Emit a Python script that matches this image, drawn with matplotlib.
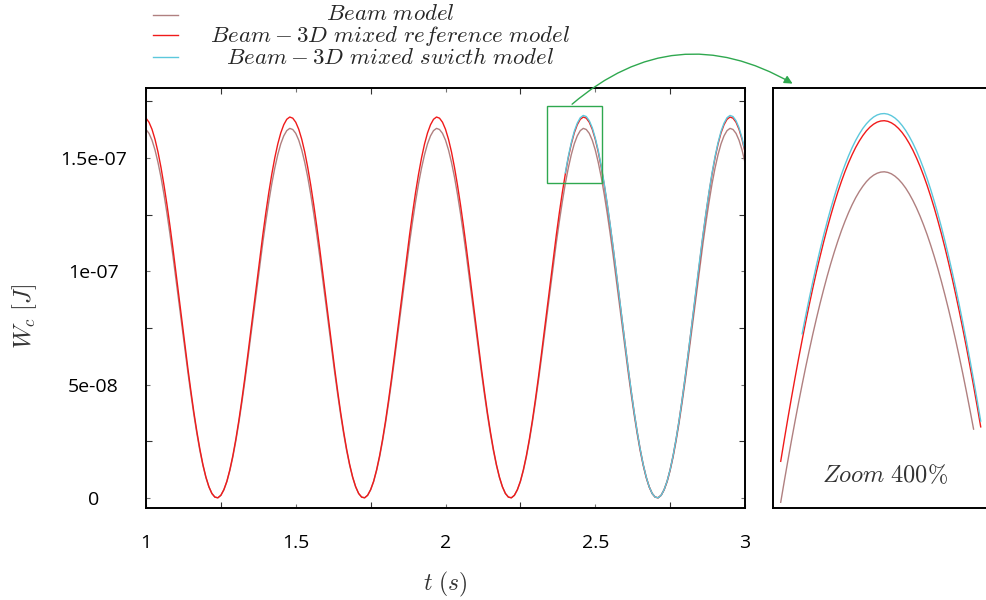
import numpy as np
import matplotlib
matplotlib.use('Agg')
import matplotlib.pyplot as plt
from matplotlib.lines import Line2D
from matplotlib.patches import Rectangle, FancyArrowPatch

# time samples (s) and energy W_c in units of 1e-8 J
t_main = np.round(np.arange(1.0, 3.00001, 0.01), 2)

w_beam = [16.25, 16.08, 15.78, 15.35, 14.80, 14.15, 13.39, 12.55, 11.64, 10.67,
          9.66, 8.62, 7.58, 6.54, 5.53, 4.57, 3.66, 2.83, 2.08, 1.44,
          0.90, 0.49, 0.20, 0.04, 0.01, 0.12, 0.36, 0.72, 1.21, 1.81,
          2.52, 3.32, 4.20, 5.14, 6.13, 7.16, 8.20, 9.24, 10.27, 11.26,
          12.19, 13.06, 13.86, 14.55, 15.14, 15.62, 15.97, 16.20, 16.30,
          16.25, 16.08, 15.78, 15.35, 14.80, 14.15, 13.39, 12.55, 11.64, 10.67,
          9.66, 8.62, 7.58, 6.54, 5.53, 4.57, 3.66, 2.83, 2.08, 1.44,
          0.90, 0.49, 0.20, 0.04, 0.01, 0.12, 0.36, 0.72, 1.21, 1.81,
          2.52, 3.32, 4.20, 5.14, 6.13, 7.16, 8.20, 9.24, 10.27, 11.26,
          12.19, 13.06, 13.86, 14.55, 15.14, 15.62, 15.97, 16.20, 16.30,
          16.25, 16.08, 15.78, 15.35, 14.80, 14.15, 13.39, 12.55, 11.64, 10.67,
          9.66, 8.62, 7.58, 6.54, 5.53, 4.57, 3.66, 2.83, 2.08, 1.44,
          0.90, 0.49, 0.20, 0.04, 0.01, 0.12, 0.36, 0.72, 1.21, 1.81,
          2.52, 3.32, 4.20, 5.14, 6.13, 7.16, 8.20, 9.24, 10.27, 11.26,
          12.19, 13.06, 13.86, 14.55, 15.14, 15.62, 15.97, 16.20, 16.30,
          16.25, 16.08, 15.78, 15.35, 14.80, 14.15, 13.39, 12.55, 11.64, 10.67,
          9.66, 8.62, 7.58, 6.54, 5.53, 4.57, 3.66, 2.83, 2.08, 1.44,
          0.90, 0.49, 0.20, 0.04, 0.01, 0.12, 0.36, 0.72, 1.21, 1.81,
          2.52, 3.32, 4.20, 5.14, 6.13, 7.16, 8.20, 9.24, 10.27, 11.26,
          12.19, 13.06, 13.86, 14.55, 15.14, 15.62, 15.97, 16.20, 16.30,
          16.25, 16.08, 15.78, 15.35, 14.80]

w_ref = [16.75, 16.57, 16.26, 15.82, 15.26, 14.58, 13.80, 12.94, 12.00, 11.00,
         9.95, 8.88, 7.81, 6.74, 5.70, 4.71, 3.77, 2.92, 2.15, 1.48,
         0.93, 0.50, 0.20, 0.04, 0.01, 0.12, 0.37, 0.74, 1.25, 1.87,
         2.60, 3.42, 4.33, 5.30, 6.32, 7.38, 8.45, 9.53, 10.58, 11.60,
         12.57, 13.47, 14.28, 15.00, 15.61, 16.10, 16.46, 16.70, 16.80,
         16.75, 16.57, 16.26, 15.82, 15.26, 14.58, 13.80, 12.94, 12.00, 11.00,
         9.95, 8.88, 7.81, 6.74, 5.70, 4.71, 3.77, 2.92, 2.15, 1.48,
         0.93, 0.50, 0.20, 0.04, 0.01, 0.12, 0.37, 0.74, 1.25, 1.87,
         2.60, 3.42, 4.33, 5.30, 6.32, 7.38, 8.45, 9.53, 10.58, 11.60,
         12.57, 13.47, 14.28, 15.00, 15.61, 16.10, 16.46, 16.70, 16.80,
         16.75, 16.57, 16.26, 15.82, 15.26, 14.58, 13.80, 12.94, 12.00, 11.00,
         9.95, 8.88, 7.81, 6.74, 5.70, 4.71, 3.77, 2.92, 2.15, 1.48,
         0.93, 0.50, 0.20, 0.04, 0.01, 0.12, 0.37, 0.74, 1.25, 1.87,
         2.60, 3.42, 4.33, 5.30, 6.32, 7.38, 8.45, 9.53, 10.58, 11.60,
         12.57, 13.47, 14.28, 15.00, 15.61, 16.10, 16.46, 16.70, 16.80,
         16.75, 16.57, 16.26, 15.82, 15.26, 14.58, 13.80, 12.94, 12.00, 11.00,
         9.95, 8.88, 7.81, 6.74, 5.70, 4.71, 3.77, 2.92, 2.15, 1.48,
         0.93, 0.50, 0.20, 0.04, 0.01, 0.12, 0.37, 0.74, 1.25, 1.87,
         2.60, 3.42, 4.33, 5.30, 6.32, 7.38, 8.45, 9.53, 10.58, 11.60,
         12.57, 13.47, 14.28, 15.00, 15.61, 16.10, 16.46, 16.70, 16.80,
         16.75, 16.57, 16.26, 15.82, 15.26]

# switch model starts at t = 2.40 s
t_switch = t_main[140:]
w_switch = [14.34, 15.06, 15.67, 16.17, 16.53, 16.77, 16.87,
            16.82, 16.64, 16.33, 15.88, 15.32, 14.64, 13.86, 12.99, 12.05, 11.04,
            9.99, 8.92, 7.84, 6.77, 5.73, 4.73, 3.79, 2.93, 2.16, 1.49,
            0.94, 0.50, 0.20, 0.04, 0.01, 0.12, 0.37, 0.75, 1.25, 1.88,
            2.61, 3.43, 4.34, 5.32, 6.35, 7.41, 8.49, 9.57, 10.63, 11.65,
            12.62, 13.52, 14.34, 15.06, 15.67, 16.17, 16.53, 16.77, 16.87,
            16.82, 16.64, 16.33, 15.88, 15.32]

# zoomed samples around the peak near t = 2.46 s
t_zoom = np.round(np.arange(2.390, 2.53001, 0.0025), 4)
wz_ref = [13.467, 13.679, 13.886, 14.087, 14.282, 14.472, 14.654, 14.831, 15.001, 15.164,
          15.320, 15.469, 15.611, 15.745, 15.872, 15.991, 16.103, 16.206, 16.302, 16.389,
          16.468, 16.539, 16.601, 16.655, 16.701, 16.738, 16.766, 16.786, 16.797, 16.800,
          16.794, 16.779, 16.756, 16.724, 16.684, 16.635, 16.577, 16.512, 16.437, 16.355,
          16.264, 16.166, 16.059, 15.945, 15.822, 15.693, 15.555, 15.410, 15.259, 15.099,
          14.934, 14.761, 14.582, 14.396, 14.205, 14.007, 13.804]
wz_beam = [13.066, 13.272, 13.472, 13.668, 13.857, 14.041, 14.218, 14.390, 14.554, 14.713,
           14.864, 15.009, 15.146, 15.277, 15.400, 15.515, 15.623, 15.724, 15.816, 15.901,
           15.978, 16.047, 16.107, 16.159, 16.204, 16.240, 16.267, 16.286, 16.297, 16.300,
           16.294, 16.280, 16.257, 16.226, 16.187, 16.140, 16.084, 16.020, 15.948, 15.868,
           15.780, 15.685, 15.581, 15.470, 15.352, 15.226, 15.092, 14.952, 14.804, 14.650,
           14.489, 14.322, 14.148, 13.968, 13.782]
wz_switch = [14.715, 14.893, 15.063, 15.227, 15.384, 15.534, 15.676, 15.811, 15.938, 16.058,
             16.170, 16.274, 16.369, 16.457, 16.537, 16.608, 16.670, 16.725, 16.770, 16.807,
             16.836, 16.856, 16.867, 16.870, 16.864, 16.849, 16.826, 16.794, 16.753, 16.704,
             16.646, 16.580, 16.506, 16.423, 16.332, 16.233, 16.126, 16.011, 15.888, 15.758,
             15.620, 15.475, 15.322, 15.162, 14.996, 14.823, 14.643, 14.456, 14.264, 14.066,
             13.861]

labels = [r'$Beam\ model$', r'$Beam-3D\ mixed\ reference\ model$',
          r'$Beam-3D\ mixed\ swicth\ model$']
c_beam, c_ref, c_switch = '#b08080', '#f01a1a', '#5cc8dc'
green = '#2fa84f'

y_ticks = [0, 5e-08, 1e-07, 1.5e-07]
y_ticklabels = ['0', '5e-08', '1e-07', '1.5e-07']
x_ticks = [1, 1.5, 2, 2.5, 3]
x_ticklabels = ['1', '1.5', '2', '2.5', '3']

plt.rcParams['mathtext.fontset'] = 'cm'
plt.rcParams['font.family'] = ['Open Sans', 'DejaVu Sans']

W, H = 986, 600
fig = plt.figure(figsize=(W / 100, H / 100), dpi=100)

def px(x0, y0, x1, y1):
    return [x0 / W, 1 - y1 / H, (x1 - x0) / W, (y1 - y0) / H]

e = 1e-8
ax = fig.add_axes(px(146, 88, 745, 508))
ax.plot(t_main, np.array(w_beam) * e, color=c_beam, lw=1.0)
ax.plot(t_main, np.array(w_ref) * e, color=c_ref, lw=1.0)
ax.plot(t_switch, np.array(w_switch) * e, color=c_switch, lw=1.0)
ax.set_xlim(1, 3)
ax.set_ylim(-0.44e-8, 18.08e-8)
ax.set_xticks(x_ticks, x_ticklabels)
ax.set_yticks(y_ticks, y_ticklabels)
ax.set_yticks([2.5e-8, 7.5e-8, 12.5e-8, 17.5e-8], minor=True)
ax.set_xticks([1.25, 1.75, 2.25, 2.75], minor=True)
ax.tick_params(which='major', direction='in', top=True, right=True, length=3,
               width=0.8, color='0.45', labelsize=14)
ax.tick_params(which='minor', direction='in', top=True, right=True, length=4,
               width=0.8, color='0.2')
ax.tick_params(axis='x', which='major', pad=19)
ax.tick_params(axis='y', which='major', pad=38)
plt.setp(ax.get_yticklabels(), ha='center')
for s in ax.spines.values():
    s.set_linewidth(1.4)

ax.add_patch(Rectangle((2.34, 13.89e-8), 0.183, 3.39e-8, fill=False,
                       ec=green, lw=1.0, zorder=5))

fig.text(25 / W, 1 - 316 / H, r'$W_c\ [J]$', rotation=90, ha='center', va='center',
         fontsize=17.5, color='0.2')
fig.text(445 / W, 1 - 584 / H, r'$t\ (s)$', ha='center', va='center',
         fontsize=17, color='0.2')

# zoom panel
axz = fig.add_axes(px(773, 88, 996, 508))
axz.plot(t_zoom[:len(wz_beam)], np.array(wz_beam) * e, color=c_beam, lw=1.0)
axz.plot(t_zoom, np.array(wz_ref) * e, color=c_ref, lw=1.0)
axz.plot(t_zoom[6:], np.array(wz_switch) * e, color=c_switch, lw=1.0)
axz.set_xlim(2.3846, 2.5407)
axz.set_ylim(13.01e-8, 17.12e-8)
axz.set_xticks([])
axz.set_yticks([])
for s in axz.spines.values():
    s.set_linewidth(1.4)
axz.text(0.5, 0.062, r'$Zoom\ 400\%$', transform=axz.transAxes, ha='center',
         va='baseline', fontsize=17.5, color='0.2')

arrow = FancyArrowPatch((570 / W, 1 - 106 / H), (795 / W, 1 - 85 / H),
                        transform=fig.transFigure, connectionstyle='arc3,rad=-0.36',
                        arrowstyle='-|>', mutation_scale=12, color=green, lw=1.0)
fig.add_artist(arrow)

# legend: sample lines plus one centred block of the three labels
for col, yl in zip([c_beam, c_ref, c_switch], [15, 35, 57]):
    fig.add_artist(Line2D([153 / W, 178 / W], [1 - yl / H, 1 - yl / H], color=col, lw=1.0))
fig.text(390 / W, 1 - 2 / H, '\n'.join(labels), ha='center', va='top',
         multialignment='center', linespacing=0.9, fontsize=16.5, color='0.15')

fig.savefig('out.png', dpi=100)
